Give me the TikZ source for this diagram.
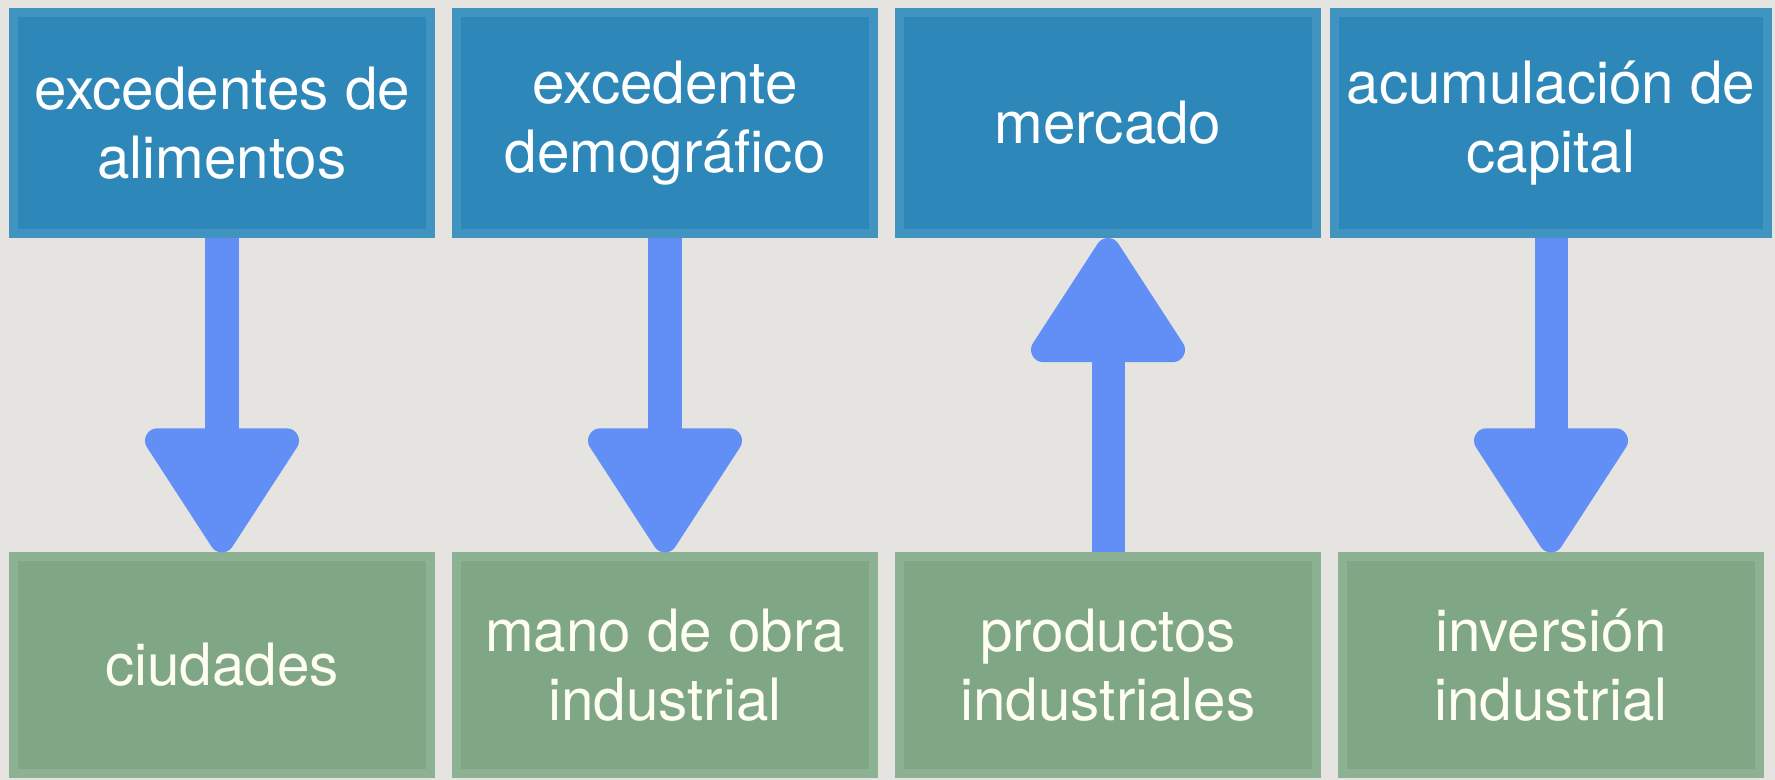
\documentclass[tikz,border=0pt]{standalone}
\usepackage{fontspec}
\setmainfont{TeX Gyre Heros}
\usepackage{xcolor}
\usepackage{tikz}
\usetikzlibrary{arrows.meta, positioning}

\definecolor{bgpaper}{HTML}{E5E4E0}
\definecolor{topfill}{HTML}{2D87B8}
\definecolor{topedge}{HTML}{4193C0}
\definecolor{lowfill}{HTML}{7FA785}
\definecolor{lowedge}{HTML}{8DB293}
\definecolor{flowblue}{HTML}{628FF5}

\begin{document}
\begin{tikzpicture}[x=0.01cm, y=-0.01cm,
        top_box/.style={rectangle, draw=topedge, fill=topfill, line width=0.09cm,
        minimum width=4.16cm, minimum height=2.21cm, align=center, text=white,
        font=\fontsize{16.6}{19.5}\selectfont},
        low_box/.style={top_box, draw=lowedge, fill=lowfill, minimum height=2.16cm,
        text=white!95!yellow},
        flow_arrow/.style={line width=0.33cm, flowblue,
        -{Triangle[length=13.5mm, width=16.8mm, line width=7pt, round]}}
    ]

    % paper
    \fill[bgpaper] (0,0) rectangle (1775,780);

    % upper row
    \node[top_box] (food)    at (222, 123)  {excedentes de\\alimentos};
    \node[top_box] (people)  at (665, 123)  {excedente\\demográfico};
    \node[top_box] (market)  at (1108, 123) {mercado};
    \node[top_box] (capital) at (1551, 123) {acumulación de\\capital};

    % lower row
    \node[low_box] (cities)   at (222, 665)  {ciudades};
    \node[low_box] (labour)   at (665, 665)  {mano de obra\\industrial};
    \node[low_box] (goods)    at (1108, 665) {productos\\industriales};
    \node[low_box] (invest)   at (1551, 665) {inversión\\industrial};

    % flows
    \draw[flow_arrow] (food.south)   -- (cities.north);
    \draw[flow_arrow] (people.south) -- (labour.north);
    \draw[flow_arrow] (goods.north)  -- (market.south);
    \draw[flow_arrow] (capital.south) -- (invest.north);

\end{tikzpicture}
\end{document}
